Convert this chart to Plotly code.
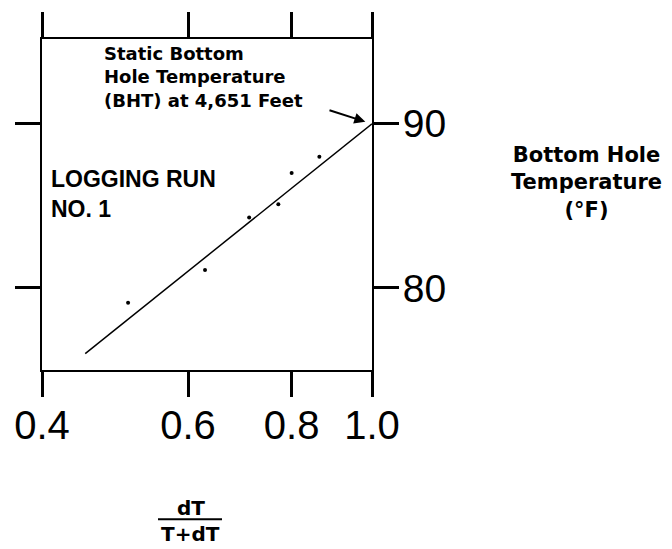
import math
import plotly.graph_objects as go

# ---- data ----
ratio_vals = [0.508, 0.629, 0.711, 0.771, 0.800, 0.864]      # dT/(T+dT)
bht_vals = [79.1, 81.1, 84.3, 85.1, 87.0, 88.0]              # deg F
fit_x = [0.451, 1.0]
fit_y = [76.0, 90.0]
x_ticks = [0.4, 0.6, 0.8, 1.0]
x_ticktext = ["0.4", "0.6", "0.8", "1.0"]
y_ticks = [80, 90]
y_ticktext = ["80", "90"]

W, H = 672, 549
PLOT_L, PLOT_R, PLOT_T, PLOT_B = 42, 372, 33, 370   # plot box in window pixels
ML, MT = PLOT_L, PLOT_T
PW, PH = PLOT_R - PLOT_L, PLOT_B - PLOT_T
MR = W - ML - PW
MB = H - MT - PH


def px(xp):
    return (xp - PLOT_L) / PW


def py(yp):
    return (PLOT_B - yp) / PH


fig = go.Figure()
fig.add_trace(go.Scatter(x=fit_x, y=fit_y, mode="lines",
                         line=dict(color="black", width=1.5),
                         hoverinfo="skip", showlegend=False))
fig.add_trace(go.Scatter(x=ratio_vals, y=bht_vals, mode="markers",
                         marker=dict(color="black", size=4),
                         showlegend=False))

bold = "DejaVu Sans"
ann = []
# Static BHT note
ann.append(dict(text="<b>Static Bottom<br>Hole Temperature<br>(BHT) at 4,651 Feet</b>",
                xref="paper", yref="paper", x=px(102), y=py(72),
                xanchor="left", yanchor="middle", align="left",
                showarrow=False, font=dict(family=bold, size=18, color="black")))
# arrow
ann.append(dict(text="", x=0, y=90, xref="x", yref="y", showarrow=True,
                ax=-44, ay=-14, arrowhead=2, arrowsize=1.1, arrowwidth=2,
                arrowcolor="black", standoff=7))
# Logging run
ann.append(dict(text="<b>LOGGING RUN<br>NO. 1</b>", xref="paper", yref="paper",
                x=px(49), y=py(191), xanchor="left", yanchor="middle", align="left",
                showarrow=False, font=dict(family="Liberation Sans", size=23, color="black")))
# right axis title
ann.append(dict(text="<b>Bottom Hole<br>Temperature<br>(°F)</b>", xref="paper", yref="paper",
                x=px(586), y=py(179), xanchor="center", yanchor="middle", align="center",
                showarrow=False, font=dict(family=bold, size=21, color="black")))
# x-axis title as a fraction
ann.append(dict(text="<b>dT</b>", xref="paper", yref="paper", x=px(191), y=py(510),
                xanchor="center", yanchor="middle", showarrow=False,
                font=dict(family=bold, size=20, color="black")))
ann.append(dict(text="<b>T+dT</b>", xref="paper", yref="paper", x=px(190), y=py(537),
                xanchor="center", yanchor="middle", showarrow=False,
                font=dict(family=bold, size=20, color="black")))

fig.add_shape(type="line", xref="paper", yref="paper",
              x0=px(158), x1=px(222), y0=py(522), y1=py(522),
              line=dict(color="black", width=2))

fig.update_layout(
    width=W, height=H,
    margin=dict(l=ML, r=MR, t=MT, b=MB, pad=0),
    paper_bgcolor="white", plot_bgcolor="white",
    annotations=ann,
    showlegend=False,
    xaxis=dict(type="log", range=[math.log10(0.4), 0],
               tickvals=x_ticks, ticktext=x_ticktext,
               ticks="outside", ticklen=25, tickwidth=3, tickcolor="black",
               ticklabelstandoff=-6,
               showline=True, linecolor="black", linewidth=2, mirror="ticks",
               showgrid=False, zeroline=False,
               tickfont=dict(family="Liberation Sans", size=40, color="black")),
    yaxis=dict(range=[75.0, 95.17], side="right",
               tickvals=y_ticks, ticktext=y_ticktext,
               ticks="outside", ticklen=25, tickwidth=3, tickcolor="black",
               ticklabelstandoff=-4,
               showline=True, linecolor="black", linewidth=2, mirror="ticks",
               showgrid=False, zeroline=False,
               tickfont=dict(family="Liberation Sans", size=39, color="black")),
)

fig.write_html("out.html", config={"displayModeBar": False},
               post_script="document.body.style.margin='0';"
                           "document.body.style.overflow='hidden';")
